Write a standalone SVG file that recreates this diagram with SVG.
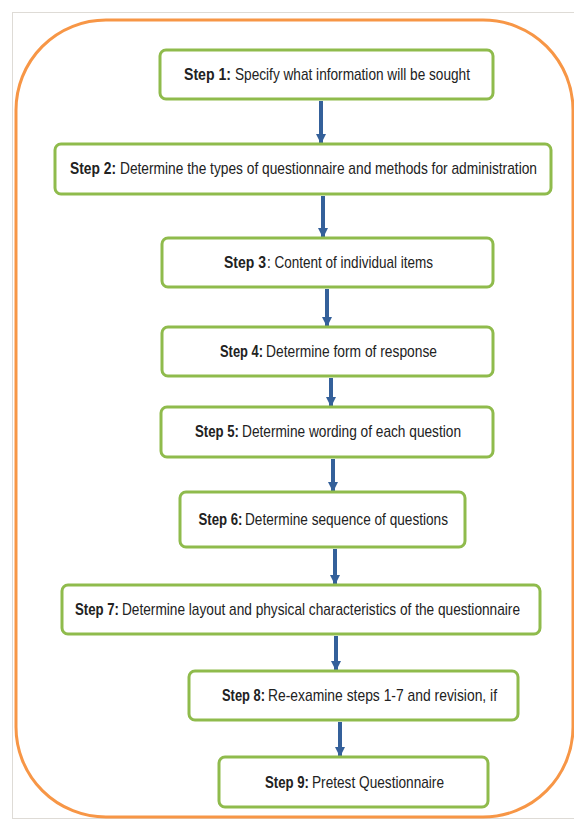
<svg xmlns="http://www.w3.org/2000/svg" width="574" height="820" viewBox="0 0 574 820">
<defs>
<style>
.box{fill:#ffffff;stroke:#8fbb4c;stroke-width:3}
.lbl{font-family:"Liberation Sans",Arial,sans-serif;font-size:16px;fill:#222222;text-anchor:start}
.b{font-weight:bold}
.conn{stroke:#34609a;stroke-width:4;fill:none}
</style>
<marker id="ah" viewBox="0 0 10 10" refX="9" refY="5" markerWidth="2.6" markerHeight="2.6" orient="auto" markerUnits="strokeWidth">
<path d="M0,0 L10,5 L0,10 z" fill="#34609a"/>
</marker>
</defs>
<rect x="0" y="0" width="574" height="820" fill="#ffffff"/>
<rect id="page" x="12.5" y="12.5" width="600" height="806" fill="none" stroke="#dedbd6" stroke-width="1"/>
<rect id="frame" x="16" y="20" width="557" height="797" rx="90" ry="90" fill="none" stroke="#f79646" stroke-width="3"/>

<g id="connectors">
<line class="conn" x1="321" y1="101" x2="321" y2="143" marker-end="url(#ah)"/>
<line class="conn" x1="323" y1="196" x2="323" y2="237" marker-end="url(#ah)"/>
<line class="conn" x1="327" y1="289" x2="327" y2="326" marker-end="url(#ah)"/>
<line class="conn" x1="331" y1="378" x2="331" y2="406" marker-end="url(#ah)"/>
<line class="conn" x1="333" y1="459" x2="333" y2="491" marker-end="url(#ah)"/>
<line class="conn" x1="335" y1="549" x2="335" y2="584" marker-end="url(#ah)"/>
<line class="conn" x1="336" y1="636" x2="336" y2="670" marker-end="url(#ah)"/>
<line class="conn" x1="340" y1="722" x2="340" y2="756" marker-end="url(#ah)"/>
</g>

<g id="step1">
<rect class="box" x="160" y="50" width="333" height="49" rx="6"/>
<text class="lbl b" transform="scale(0.86 1)" x="213.95" y="80" textLength="54.65" lengthAdjust="spacingAndGlyphs">Step 1:</text>
<text class="lbl" transform="scale(0.86 1)" x="273.26" y="80" textLength="273.26" lengthAdjust="spacingAndGlyphs">Specify what information will be sought</text>
</g>
<g id="step2">
<rect class="box" x="55" y="144" width="496" height="50" rx="6"/>
<text class="lbl b" transform="scale(0.86 1)" x="81.40" y="174" textLength="53.49" lengthAdjust="spacingAndGlyphs">Step 2:</text>
<text class="lbl" transform="scale(0.86 1)" x="139.53" y="174" textLength="484.88" lengthAdjust="spacingAndGlyphs">Determine the types of questionnaire and methods for administration</text>
</g>
<g id="step3">
<rect class="box" x="162" y="238" width="331" height="49" rx="6"/>
<text class="lbl b" transform="scale(0.86 1)" x="260.47" y="268" textLength="48.84" lengthAdjust="spacingAndGlyphs">Step 3</text>
<text class="lbl" transform="scale(0.86 1)" x="310.47" y="268" textLength="193.02" lengthAdjust="spacingAndGlyphs">: Content of individual items</text>
</g>
<g id="step4">
<rect class="box" x="162" y="327" width="331" height="49" rx="6"/>
<text class="lbl b" transform="scale(0.86 1)" x="255.81" y="357" textLength="50" lengthAdjust="spacingAndGlyphs">Step 4:</text>
<text class="lbl" transform="scale(0.86 1)" x="309.30" y="357" textLength="198.84" lengthAdjust="spacingAndGlyphs">Determine form of response</text>
</g>
<g id="step5">
<rect class="box" x="161" y="407" width="332" height="50" rx="6"/>
<text class="lbl b" transform="scale(0.86 1)" x="226.74" y="437" textLength="51.16" lengthAdjust="spacingAndGlyphs">Step 5:</text>
<text class="lbl" transform="scale(0.86 1)" x="281.40" y="437" textLength="254.65" lengthAdjust="spacingAndGlyphs">Determine wording of each question</text>
</g>
<g id="step6">
<rect class="box" x="180" y="492" width="285" height="55" rx="6"/>
<text class="lbl b" transform="scale(0.86 1)" x="230.81" y="525" textLength="51.16" lengthAdjust="spacingAndGlyphs">Step 6:</text>
<text class="lbl" transform="scale(0.86 1)" x="284.88" y="525" textLength="236.05" lengthAdjust="spacingAndGlyphs">Determine sequence of questions</text>
</g>
<g id="step7">
<rect class="box" x="62" y="585" width="478" height="49" rx="6"/>
<text class="lbl b" transform="scale(0.86 1)" x="87.21" y="615" textLength="51.16" lengthAdjust="spacingAndGlyphs">Step 7:</text>
<text class="lbl" transform="scale(0.86 1)" x="141.86" y="615" textLength="462.79" lengthAdjust="spacingAndGlyphs">Determine layout and physical characteristics of the questionnaire</text>
</g>
<g id="step8">
<rect class="box" x="189" y="671" width="329" height="49" rx="6"/>
<text class="lbl b" transform="scale(0.86 1)" x="258.14" y="701" textLength="50" lengthAdjust="spacingAndGlyphs">Step 8:</text>
<text class="lbl" transform="scale(0.86 1)" x="311.63" y="701" textLength="266.28" lengthAdjust="spacingAndGlyphs">Re-examine steps 1-7 and revision, if</text>
</g>
<g id="step9">
<rect class="box" x="219" y="757" width="269" height="50" rx="6"/>
<text class="lbl b" transform="scale(0.86 1)" x="308.14" y="788" textLength="51.16" lengthAdjust="spacingAndGlyphs">Step 9:</text>
<text class="lbl" transform="scale(0.86 1)" x="362.79" y="788" textLength="153.49" lengthAdjust="spacingAndGlyphs">Pretest Questionnaire</text>
</g>
</svg>
